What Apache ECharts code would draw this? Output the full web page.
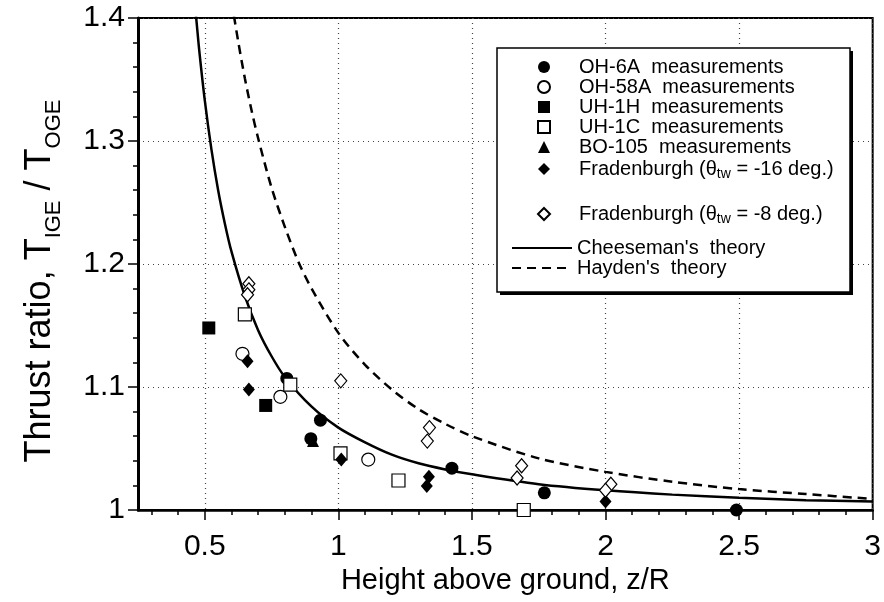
<!DOCTYPE html>
<html>
<head>
<meta charset="utf-8">
<script src="https://cdn.jsdelivr.net/npm/echarts@6/dist/echarts.min.js"></script>
<style>
html, body { margin: 0; background: #fff; }
#chart { width: 884px; height: 602px; }
</style>
</head>
<body>
<div id="chart"></div>
<script>
// measured thrust ratio T_IGE/T_OGE against z/R
var oh6a = [[0.807, 1.107], [0.933, 1.073], [0.897, 1.058], [1.425, 1.034], [1.771, 1.014], [2.49, 1.0]]
var oh58a = [[0.641, 1.127], [0.783, 1.092], [1.112, 1.041]]
var uh1h = [[0.515, 1.148], [0.728, 1.085]]
var uh1c = [[0.65, 1.159], [0.82, 1.102], [1.008, 1.046], [1.225, 1.024], [1.694, 1.0]]
var bo105 = [[0.905, 1.056]]
var frad16 = [[0.66, 1.121], [0.665, 1.098], [1.011, 1.041], [1.339, 1.027], [1.331, 1.0195], [2.0, 1.007]]
var frad8 = [[0.665, 1.184], [0.665, 1.179], [0.66, 1.175], [1.009, 1.105], [1.341, 1.067], [1.333, 1.056],
    [1.686, 1.036], [1.669, 1.026], [2.02, 1.021], [2.0, 1.016]]

// theory curves
var cheeseman = [[0.45, 1.446], [0.46, 1.419], [0.47, 1.395], [0.48, 1.372], [0.5, 1.333], [0.525, 1.293],
    [0.55, 1.260], [0.575, 1.233], [0.6, 1.210], [0.65, 1.174], [0.7, 1.146], [0.75, 1.125], [0.8, 1.108],
    [0.9, 1.084], [1.0, 1.067], [1.1, 1.055], [1.2, 1.045], [1.3, 1.038], [1.4, 1.033], [1.5, 1.029],
    [1.75, 1.021], [2.0, 1.016], [2.25, 1.0125], [2.5, 1.010], [2.75, 1.008], [3.0, 1.007]]
var hayden = [[0.6, 1.414], [0.625, 1.381], [0.65, 1.351], [0.675, 1.325], [0.7, 1.302], [0.75, 1.262],
    [0.8, 1.230], [0.85, 1.202], [0.9, 1.180], [1.0, 1.144], [1.1, 1.118], [1.2, 1.098], [1.3, 1.082],
    [1.4, 1.070], [1.5, 1.060], [1.75, 1.042], [2.0, 1.031], [2.25, 1.023], [2.5, 1.017], [2.75, 1.013], [3.0, 1.009]]

// ticks
var xMajorTicks = [0.5, 1, 1.5, 2, 2.5, 3]
var xMinorTicks = [0.3, 0.4, 0.5, 0.6, 0.7, 0.8, 0.9, 1.0, 1.1, 1.2, 1.3, 1.4, 1.5, 1.6, 1.7, 1.8, 1.9,
    2.0, 2.1, 2.2, 2.3, 2.4, 2.5, 2.6, 2.7, 2.8, 2.9]

var FONT = 'Liberation Sans'

var names = {
    oh6a: 'OH-6A  measurements',
    oh58a: 'OH-58A  measurements',
    uh1h: 'UH-1H  measurements',
    uh1c: 'UH-1C  measurements',
    bo105: 'BO-105  measurements',
    frad16: 'Fradenburgh -16',
    frad8: 'Fradenburgh -8',
    chee: "Cheeseman's  theory",
    hay: "Hayden's  theory"
}

function legendLabel(name) {
    if (name === names.frad16) return '{p|Fradenburgh (θ}{s|tw}{t| = -16 deg.)}'
    if (name === names.frad8) return '{p|Fradenburgh (θ}{s|tw}{t| = -8 deg.)}'
    return '{p|' + name + '}'
}

var legendRich = {
    p: { fontSize: 20, fontFamily: FONT, color: '#000', lineHeight: 23.6, padding: [0, 0, 0, 24] },
    t: { fontSize: 20, fontFamily: FONT, color: '#000', lineHeight: 23.6 },
    s: { fontSize: 14, fontFamily: FONT, color: '#000', lineHeight: 14, padding: [10, 0, 0, 0] }
}

function scatter(name, data, symbol, filled, size) {
    return {
        name: name,
        type: 'scatter',
        data: data,
        symbol: symbol,
        symbolSize: size,
        z: 3,
        itemStyle: filled
            ? { color: '#000', opacity: 1 }
            : { color: '#fff', borderColor: '#000', borderWidth: 1.2, opacity: 1 }
    }
}

var option = {
    animation: false,
    backgroundColor: '#fff',
    grid: {
        left: 138, right: 10, top: 18, bottom: 92,
        show: true, borderColor: '#000', borderWidth: 2, backgroundColor: 'transparent'
    },
    xAxis: [{
        type: 'value',
        min: 0.25,
        max: 3,
        position: 'bottom',
        name: 'Height above ground, z/R',
        nameLocation: 'middle',
        nameGap: 49,
        nameTextStyle: { fontSize: 29, fontFamily: FONT, color: '#000' },
        axisLine: { lineStyle: { color: '#000', width: 2.5 } },
        axisTick: { customValues: xMajorTicks, length: 10, lineStyle: { color: '#000', width: 1.5 } },
        axisLabel: { customValues: xMajorTicks, fontSize: 30, fontFamily: FONT, color: '#000', margin: 22 },
        splitLine: { show: true, lineStyle: { color: '#444', type: [1, 4], width: 1.2 } }
    }, {
        type: 'value',
        min: 0.25,
        max: 3,
        position: 'bottom',
        axisLine: { show: false },
        axisLabel: { show: false },
        splitLine: { show: false },
        axisTick: { show: true, customValues: xMinorTicks, length: 5, lineStyle: { color: '#000', width: 1.5 } }
    }],
    yAxis: {
        type: 'value',
        min: 1,
        max: 1.4,
        interval: 0.1,
        name: '{t|Thrust ratio, T}{s|IGE}{t| / T}{e|OGE}',
        nameLocation: 'middle',
        nameRotate: 90,
        nameGap: 80,
        nameTextStyle: {
            rich: {
                t: { fontSize: 36, fontFamily: FONT, color: '#000', lineHeight: 36, verticalAlign: 'top' },
                s: { fontSize: 22, fontFamily: FONT, color: '#000', lineHeight: 22, padding: [27, 0, 0, 0] },
                e: { fontSize: 22, fontFamily: FONT, color: '#000', lineHeight: 22, padding: [27, 34, 0, 0] }
            }
        },
        axisLine: { lineStyle: { color: '#000', width: 3 } },
        axisTick: { length: 10, lineStyle: { color: '#000', width: 1.5 } },
        minorTick: { show: true, splitNumber: 5, length: 5, lineStyle: { color: '#000', width: 1.5 } },
        axisLabel: { fontSize: 30, fontFamily: FONT, color: '#000', margin: 13 },
        splitLine: { show: true, lineStyle: { color: '#444', type: [1, 4], width: 1.2 } }
    },
    graphic: [{
        // legend frame with a hard drop shadow
        type: 'rect',
        z: 3,
        shape: { x: 500, y: 51, width: 353, height: 244 },
        style: { fill: '#000' }
    }, {
        type: 'rect',
        z: 3,
        shape: { x: 497, y: 48, width: 353, height: 244 },
        style: { fill: '#fff', stroke: '#000', lineWidth: 1.5 }
    }],
    legend: [{
        left: 537, top: 57, orient: 'vertical', itemGap: 0, itemWidth: 12, itemHeight: 12,
        padding: 0, selectedMode: false, z: 5,
        data: [names.oh6a, names.oh58a, names.uh1h, names.uh1c, names.bo105, names.frad16],
        formatter: legendLabel,
        textStyle: { rich: legendRich }
    }, {
        left: 537, top: 202, orient: 'vertical', itemGap: 0, itemWidth: 12, itemHeight: 12,
        padding: 0, selectedMode: false, z: 5,
        data: [names.frad8],
        formatter: legendLabel,
        textStyle: { rich: legendRich }
    }, {
        left: 511, top: 238, orient: 'vertical', itemGap: 0, itemWidth: 60, itemHeight: 12,
        padding: 0, selectedMode: false, z: 5,
        itemStyle: { opacity: 0 },
        data: [names.chee, names.hay],
        formatter: function (name) { return '{t|' + name + '}' },
        textStyle: { rich: { t: { fontSize: 20, fontFamily: FONT, color: '#000', lineHeight: 22 } } }
    }],
    series: [
        {
            name: names.chee, type: 'line', data: cheeseman, smooth: 0.3,
            symbol: 'none', z: 2, lineStyle: { color: '#000', width: 2.5 }, itemStyle: { color: '#000' }
        },
        {
            name: names.hay, type: 'line', data: hayden, smooth: 0.3,
            symbol: 'none', z: 2, lineStyle: { color: '#000', width: 2.5, type: [9, 6] }, itemStyle: { color: '#000' }
        },
        scatter(names.bo105, bo105, 'triangle', true, 12),
        scatter(names.oh6a, oh6a, 'circle', true, 13),
        scatter(names.oh58a, oh58a, 'circle', false, 13),
        scatter(names.uh1h, uh1h, 'rect', true, 13),
        scatter(names.uh1c, uh1c, 'rect', false, 13),
        scatter(names.frad16, frad16, 'diamond', true, [12, 14]),
        scatter(names.frad8, frad8, 'diamond', false, [12, 14])
    ]
}

var chart = echarts.init(document.getElementById('chart'))
chart.setOption(option)
</script>
</body>
</html>
